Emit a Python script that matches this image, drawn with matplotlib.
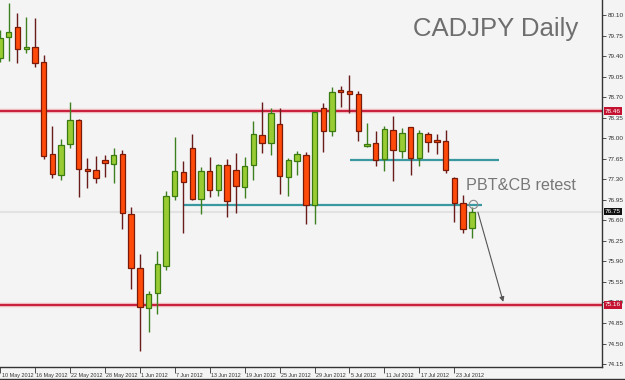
import numpy as np
import matplotlib
matplotlib.use("Agg")
import matplotlib.pyplot as plt
import matplotlib.transforms as mtransforms

# daily candles, 10 May 2012 .. 25 Jul 2012 (trading days)
dates = ["10 May 2012", "11 May", "14 May", "15 May", "16 May 2012", "17 May", "18 May",
         "21 May", "22 May 2012", "23 May", "24 May", "25 May", "28 May 2012", "29 May",
         "30 May", "31 May", "1 Jun 2012", "4 Jun", "5 Jun", "6 Jun", "7 Jun 2012", "8 Jun",
         "11 Jun", "12 Jun", "13 Jun 2012", "14 Jun", "15 Jun", "18 Jun", "19 Jun 2012",
         "20 Jun", "21 Jun", "22 Jun", "25 Jun 2012", "26 Jun", "27 Jun", "28 Jun",
         "29 Jun 2012", "2 Jul", "3 Jul", "4 Jul", "5 Jul 2012", "6 Jul", "9 Jul", "10 Jul",
         "11 Jul 2012", "12 Jul", "13 Jul", "16 Jul", "17 Jul 2012", "18 Jul", "19 Jul",
         "20 Jul", "23 Jul 2012", "24 Jul", "25 Jul"]

opens = [79.37, 79.72, 79.90, 79.52, 79.55, 79.30, 77.73, 77.37, 77.90, 78.31, 77.46,
         77.46, 77.63, 77.56, 77.73, 76.71, 75.79, 75.11, 75.36, 75.82, 77.01, 77.42,
         77.83, 76.96, 77.44, 77.12, 77.54, 77.46, 77.17, 77.54, 78.05, 77.92, 78.24,
         77.34, 77.61, 77.71, 76.86, 78.51, 78.12, 78.80, 78.80, 78.75, 77.87, 77.92,
         77.65, 78.14, 77.78, 78.19, 77.66, 78.07, 77.96, 77.95, 77.32, 76.90, 76.47]
highs = [79.84, 80.30, 80.13, 80.07, 80.05, 79.42, 78.21, 77.99, 78.62, 78.33, 77.66,
         77.70, 77.71, 77.83, 77.80, 76.83, 76.03, 75.40, 76.08, 77.10, 78.02, 77.61,
         78.07, 77.51, 77.68, 77.56, 77.65, 77.75, 77.68, 78.29, 78.62, 78.51, 78.51,
         77.66, 77.78, 77.76, 78.45, 78.60, 78.87, 78.89, 79.08, 78.80, 78.26, 78.12,
         78.21, 78.38, 78.17, 78.19, 78.14, 78.10, 78.07, 78.14, 77.34, 77.03, 76.83]
lows = [79.30, 79.32, 79.28, 79.45, 79.21, 77.65, 77.32, 77.29, 77.83, 77.00, 77.15,
        77.24, 77.34, 77.24, 76.45, 75.43, 74.37, 74.70, 75.00, 75.75, 76.95, 76.38,
        76.95, 76.71, 77.00, 77.01, 76.66, 76.72, 76.98, 77.29, 77.75, 77.71, 77.05,
        77.01, 77.37, 76.54, 76.54, 77.76, 78.04, 78.53, 78.43, 77.95, 77.85, 77.53,
        77.44, 77.27, 77.66, 77.37, 77.53, 77.76, 77.73, 77.41, 76.57, 76.38, 76.30]
closes = [79.71, 79.81, 79.52, 79.55, 79.28, 77.70, 77.39, 77.88, 78.31, 77.48, 77.44,
          77.32, 77.58, 77.71, 76.72, 75.79, 75.12, 75.34, 75.86, 77.01, 77.44, 77.25,
          76.96, 77.44, 77.12, 77.54, 76.93, 77.18, 77.53, 78.07, 77.92, 78.43, 77.36,
          77.63, 77.73, 76.86, 78.45, 78.12, 78.79, 78.79, 78.75, 78.12, 77.90, 77.63,
          78.16, 77.80, 78.09, 77.66, 78.09, 77.93, 77.94, 77.46, 76.90, 76.45, 76.74]

red_levels = [78.46, 75.16]
last_price = 76.75
# drawn trend lines: (price, first bar, last bar)
teal_lines = [(77.63, 40.1, 57.1), (76.87, 21.1, 55.2)]
arrow_from = (54.7, 76.74)
arrow_to = (57.6, 75.21)
retest_point = (54.1, 76.88)
note_pos = (53.3, 77.19)

price_ticks = [80.10, 79.75, 79.40, 79.05, 78.70, 78.35, 78.00, 77.65, 77.30, 76.95,
               76.60, 76.25, 75.90, 75.55, 75.20, 74.85, 74.50, 74.15]

bg = "#f4f4f4"
fig = plt.figure(figsize=(6.25, 3.8), dpi=100, facecolor=bg)
ax = fig.add_axes([0, 13 / 380, 602 / 625, 367 / 380], facecolor=bg)

x = np.arange(len(opens))
o = np.array(opens); h = np.array(highs); l = np.array(lows); c = np.array(closes)
up = c >= o

# wicks
ax.vlines(x[up], l[up], h[up], color="#3d8020", lw=1.0, zorder=3)
ax.vlines(x[~up], l[~up], h[~up], color="#6a1c1c", lw=1.0, zorder=3)
# bodies
body_lo = np.minimum(o, c)
body_h = np.maximum(np.abs(c - o), 0.03)
ax.bar(x[up], body_h[up], bottom=body_lo[up], width=0.62, color="#99cc33",
       edgecolor="#3a7a10", linewidth=0.9, zorder=4)
ax.bar(x[~up], body_h[~up], bottom=body_lo[~up], width=0.62, color="#ff4a0a",
       edgecolor="#7a1a08", linewidth=0.9, zorder=4)

# levels
for lv in red_levels:
    ax.axhline(lv, color="#f2b8c0", lw=3.2, zorder=1)
    ax.axhline(lv, color="#c41230", lw=1.3, zorder=2)
ax.axhline(last_price, color="#e2e2e2", lw=1.6, zorder=1)
for price, x0, x1 in teal_lines:
    ax.hlines(price, x0, x1, color="#3a98a0", lw=1.6, zorder=2)

ax.annotate("", xy=arrow_to, xytext=arrow_from,
            arrowprops=dict(arrowstyle="-|>", color="#555555", lw=0.8,
                            mutation_scale=7, shrinkA=0, shrinkB=0), zorder=5)
ax.plot(*retest_point, marker="o", ms=6, mfc="none", mec="#888888", mew=0.8, zorder=5)

ax.text(578 / 602, 0.955, "CADJPY Daily", transform=ax.transAxes, ha="right", va="top",
        fontsize=18.5, color="#6e6e6e", family="Liberation Sans")
ax.text(*note_pos, "PBT&CB retest", ha="left", va="center",
        fontsize=11.6, color="#777777", family="Liberation Sans")

ax.set_xlim(0.24, 68.9)
ax.set_ylim(74.10, 80.356)

# axes styling
for s in ["top", "left"]:
    ax.spines[s].set_visible(False)
ax.spines["right"].set_color("#333333")
ax.spines["bottom"].set_color("#333333")
ax.spines["right"].set_linewidth(1.0)
ax.spines["bottom"].set_linewidth(1.0)

ax.yaxis.tick_right()
ax.set_yticks(price_ticks)
ax.set_yticklabels([f"{v:.2f}" for v in price_ticks], family="Liberation Sans")
ax.tick_params(axis="y", direction="out", length=3, width=0.6, pad=1,
               labelsize=4.6, labelcolor="#333333", color="#333333")

tick_idx = list(range(0, len(dates), 4))
ax.set_xticks(tick_idx)
ax.set_xticklabels([dates[i] for i in tick_idx], family="Liberation Sans")
ax.tick_params(axis="x", direction="out", length=4, width=0.6, pad=0.5,
               labelsize=3.9, labelcolor="#333333", color="#333333")
shift = mtransforms.ScaledTranslation(1.5 / 100, 0, fig.dpi_scale_trans)
for lab in ax.get_xticklabels():
    lab.set_horizontalalignment("left")
    lab.set_transform(lab.get_transform() + shift)

# price boxes on the axis
for lv, fc in [(red_levels[0], "#c41230"), (last_price, "#111111"), (red_levels[1], "#c41230")]:
    ax.text(1.005, lv, f"{lv:.2f}", transform=ax.get_yaxis_transform(), ha="left",
            va="center", fontsize=4.6, color="white", zorder=6, family="Liberation Sans",
            bbox=dict(boxstyle="square,pad=0.2", fc=fc, ec="none"))

fig.add_artist(plt.Line2D([0, 1], [1.5 / 380, 1.5 / 380], color="#333333", lw=1.0,
                          transform=fig.transFigure))

fig.savefig("out.png", dpi=100, facecolor=bg)
